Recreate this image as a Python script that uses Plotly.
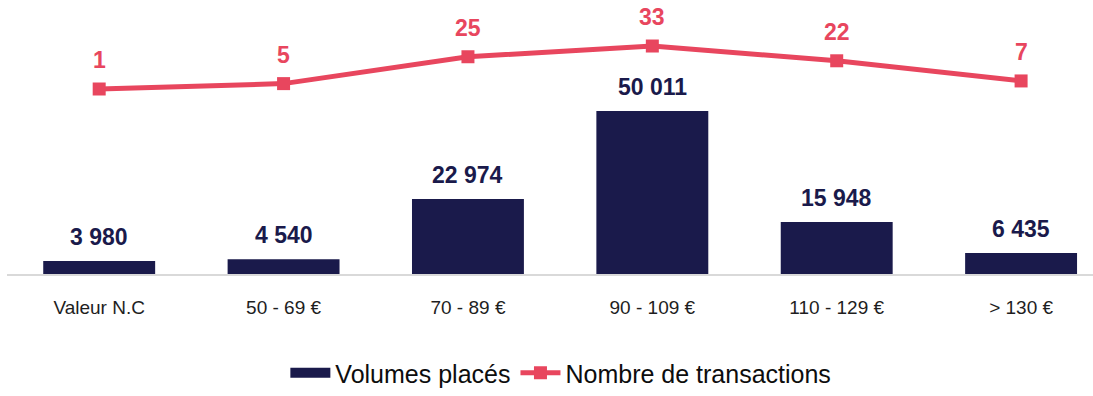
import plotly.graph_objects as go

categories = ["Valeur N.C", "50 - 69 €", "70 - 89 €", "90 - 109 €", "110 - 129 €", "> 130 €"]
volumes = [3980, 4540, 22974, 50011, 15948, 6435]
transactions = [1, 5, 25, 33, 22, 7]

NAVY = "#1a1a4b"
PINK = "#e8465e"
FONT = "Liberation Sans, Arial, sans-serif"


def fmt_fr(v):
    return f"{v:,}".replace(",", " ")


fig = go.Figure()
fig.add_trace(go.Bar(
    x=categories, y=volumes, name="Volumes placés",
    marker=dict(color=NAVY, line=dict(width=0)), width=0.607,
    showlegend=False, legendgroup="vol",
))
# legend key for the bars: a wide flat navy block
fig.add_trace(go.Scatter(
    x=[None], y=[None], name="Volumes placés", mode="lines",
    line=dict(color=NAVY, width=13), legendgroup="vol", hoverinfo="skip",
))
fig.add_trace(go.Scatter(
    x=categories, y=transactions, name="Nombre de transactions", yaxis="y2",
    mode="lines+markers",
    line=dict(color=PINK, width=5),
    marker=dict(symbol="square", size=13, color=PINK),
    cliponaxis=False,
))

annotations = []
for c, v in zip(categories, volumes):
    annotations.append(dict(
        x=c, y=v, xref="x", yref="y", text=fmt_fr(v), showarrow=False,
        yanchor="middle", yshift=24,
        font=dict(family=FONT, size=23, color=NAVY, weight="bold"),
    ))
for c, v in zip(categories, transactions):
    annotations.append(dict(
        x=c, y=v, xref="x", yref="y2", text=str(v), showarrow=False,
        yanchor="middle", yshift=29,
        font=dict(family=FONT, size=23, color=PINK, weight="bold"),
    ))

fig.update_layout(
    width=1093, height=396,
    margin=dict(l=7, r=0, t=10, b=122),
    paper_bgcolor="white", plot_bgcolor="white",
    showlegend=True,
    legend=dict(
        orientation="h", x=0.51, xanchor="center",
        yref="container", y=0, yanchor="bottom",
        font=dict(family=FONT, size=25, color="#0d0d0d"),
        itemwidth=40, traceorder="normal",
    ),
    xaxis=dict(
        type="category", range=[-0.5, 5.39],
        showline=True, linecolor="#d9d9d9", linewidth=2,
        showgrid=False, zeroline=False,
        ticks="outside", ticklen=15, tickcolor="rgba(0,0,0,0)",
        tickfont=dict(family=FONT, size=19, color="#1e1e1e"),
    ),
    yaxis=dict(range=[0, 81000], visible=False, showgrid=False, zeroline=False),
    yaxis2=dict(range=[-136.7, 59.8], overlaying="y", side="right",
                visible=False, showgrid=False, zeroline=False),
    annotations=annotations,
)

fig.write_html("out.html")
